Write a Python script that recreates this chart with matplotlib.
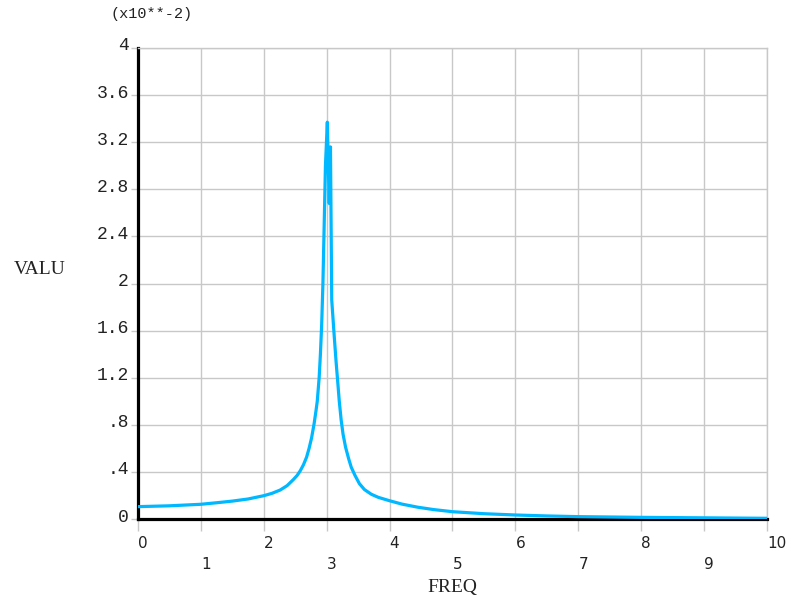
import numpy as np
import matplotlib.pyplot as plt
from matplotlib.transforms import ScaledTranslation

# harmonic response (VALU in units of 1e-2)
freq = [0.0, 0.5, 1.0, 1.25, 1.5, 1.75, 2.0, 2.13, 2.26, 2.37, 2.47, 2.53, 2.58,
        2.63, 2.68, 2.72, 2.76, 2.80, 2.83, 2.85, 2.88, 2.90, 2.92, 2.94, 2.96,
        2.98, 3.01, 3.04, 3.06, 3.08, 3.12, 3.15, 3.17, 3.20, 3.23, 3.26, 3.30,
        3.35, 3.39, 3.45, 3.52, 3.60, 3.71, 3.82, 4.0, 4.2, 4.45, 4.7, 5.0, 5.5,
        6.0, 6.5, 7.0, 8.0, 9.0, 10.0]
valu = [0.105, 0.112, 0.125, 0.138, 0.152, 0.170, 0.198, 0.218, 0.246, 0.283,
        0.335, 0.370, 0.410, 0.460, 0.525, 0.600, 0.690, 0.810, 0.920, 1.000,
        1.200, 1.400, 1.650, 2.000, 2.500, 3.000, 3.370, 2.680, 3.160, 1.860,
        1.550, 1.330, 1.200, 1.000, 0.840, 0.720, 0.610, 0.510, 0.440, 0.370,
        0.300, 0.250, 0.210, 0.184, 0.155, 0.126, 0.100, 0.080, 0.062, 0.045,
        0.034, 0.026, 0.020, 0.014, 0.010, 0.006]

x_major = [0, 2, 4, 6, 8, 10]
x_minor = [1, 3, 5, 7, 9]
y_ticks = [0, 0.4, 0.8, 1.2, 1.6, 2.0, 2.4, 2.8, 3.2, 3.6, 4.0]
y_labels = ['0', '.4', '.8', '1.2', '1.6', '2', '2.4', '2.8', '3.2', '3.6', '4']

grid_c = '#c8c8c8'
text_c = '#222222'

fig = plt.figure(figsize=(7.91, 6.02), dpi=100)
ax = fig.add_axes([138 / 791, 83 / 602, 629 / 791, 471 / 602])

ax.plot(freq, valu, color='#00b8ff', lw=2.3, zorder=3)

ax.set_xlim(0, 10)
ax.set_ylim(0, 4)

# x ticks: even labels on first row, odd labels on second row
ax.set_xticks(x_major)
ax.set_xticks(x_minor, minor=True)
ax.set_xticklabels([str(v) for v in x_major])
ax.set_xticklabels([str(v) for v in x_minor], minor=True)
ax.tick_params(axis='x', which='major', length=8.6, width=1, color=grid_c, pad=4,
               labelsize=11, labelcolor=text_c)
ax.tick_params(axis='x', which='minor', length=8.6, width=1, color=grid_c, pad=18.5,
               labelsize=11, labelcolor=text_c)
for lab in ax.get_xticklabels(which='both'):
    lab.set_ha('left')
    lab.set_family('DejaVu Sans')

ax.set_yticks(y_ticks)
ax.set_yticklabels(y_labels)
ax.tick_params(axis='y', length=5, width=1, color=grid_c, pad=1.5,
               labelsize=13, labelcolor=text_c)
lift = ScaledTranslation(0, 4 / 100, fig.dpi_scale_trans)
for lab in ax.get_yticklabels():
    lab.set_family('Liberation Mono')
    lab.set_transform(lab.get_transform() + lift)

ax.grid(True, which='both', color=grid_c, lw=1)
ax.set_axisbelow(True)

for s in ['top', 'right']:
    ax.spines[s].set_color(grid_c)
    ax.spines[s].set_linewidth(1)
for s in ['left', 'bottom']:
    ax.spines[s].set_color('black')
    ax.spines[s].set_linewidth(2.3)
    ax.spines[s].set_zorder(2.5)

ax.set_xlabel('FREQ', family='Liberation Serif', fontsize=14, color=text_c)
ax.xaxis.set_label_coords(0.5, -0.128)
ax.set_ylabel('VALU', family='Liberation Serif', fontsize=14, color=text_c,
              rotation=0, ha='center', va='center')
ax.yaxis.set_label_coords(-0.156, 0.529)

fig.text(110 / 791, 1 - 14 / 602, '(x10**-2)', family='Liberation Mono', fontsize=11,
         color=text_c, ha='left', va='center')

fig.savefig('out.png', dpi=100)
